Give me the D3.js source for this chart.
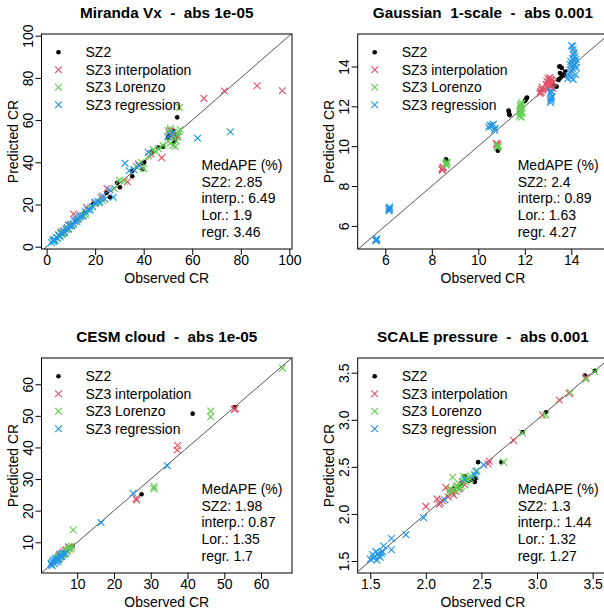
<!DOCTYPE html>
<html>
<head>
<meta charset="utf-8">
<script src="https://cdn.jsdelivr.net/npm/d3@7"></script>
<style>
body { margin: 0; background: #fff; }
svg text { font-family: "Liberation Sans", Arial, Helvetica, sans-serif; fill: #000; }
</style>
</head>
<body>
<div id="chart"></div>
<script>
// Series shared by all four panels
const seriesNames = ["SZ2", "SZ3 interpolation", "SZ3 Lorenzo", "SZ3 regression"];
const seriesColors = ["#000000", "#DF536B", "#61D04F", "#2297E6"];

const panelTitles = [
    "Miranda Vx  -  abs 1e-05",
    "Gaussian  1-scale  -  abs 0.001",
    "CESM cloud  -  abs 1e-05",
    "SCALE pressure  -  abs 0.001"
];

// axis limits [min, max]
const xLimits = [[-2.1, 101.1], [4.813, 15.587], [0.3, 68.4], [1.387, 3.64]];
const yLimits = [[-1.1, 100.8], [4.84, 15.63], [0.28, 68.3], [1.373, 3.656]];

// tick values
const ticksMiranda = [0, 20, 40, 60, 80, 100];
const ticksGaussian = [6, 8, 10, 12, 14];
const ticksCesm = [10, 20, 30, 40, 50, 60];
const ticksScale = [1.5, 2.0, 2.5, 3.0, 3.5];

// MedAPE (%) text per panel
const medapeMiranda = ["MedAPE (%)", "SZ2: 2.85", "interp.: 6.49", "Lor.: 1.9", "regr. 3.46"];
const medapeGaussian = ["MedAPE (%)", "SZ2: 2.4", "interp.: 0.89", "Lor.: 1.63", "regr. 4.27"];
const medapeCesm = ["MedAPE (%)", "SZ2: 1.98", "interp.: 0.87", "Lor.: 1.35", "regr. 1.7"];
const medapeScale = ["MedAPE (%)", "SZ2: 1.3", "interp.: 1.44", "Lor.: 1.32", "regr. 1.27"];

// [observed CR, predicted CR]
const mirandaSZ2 = [[8, 8.3], [12, 12.3], [15.5, 15.8], [19.2, 20.2], [24.7, 25.6], [26.1, 23.4], [29.1, 30.3],
    [30.2, 28.2], [35.3, 35.9], [35.3, 33.4], [39.6, 36.7], [39.8, 39.5], [40.2, 40], [43.3, 45], [46, 47],
    [48, 47.4], [50, 51.8], [51, 53], [52, 55], [53, 51], [53.5, 53], [52.5, 49.5], [53.8, 61.3]];
const mirandaInterp = [[5, 5.5], [6, 7], [7, 7.5], [8.5, 9], [9, 10.2], [10, 10.5], [11.1, 15.5], [12.5, 13],
    [14, 14.8], [16.5, 18.5], [20, 20.5], [22.5, 23.3], [24.9, 27.6], [33.3, 30.8], [37, 38], [37.9, 39.2],
    [43, 44], [47.4, 42.2], [50.5, 54], [51, 55], [52, 53], [54, 52], [64.8, 70.3], [73.2, 73.8], [86.7, 76.3],
    [97.1, 73.9]];
const mirandaLorenzo = [[3, 3.2], [4, 4.5], [5, 5.3], [5.5, 4.6], [6, 6], [7, 6.4], [8, 8.5], [9, 8.2], [10, 10],
    [11, 10.6], [13, 13.5], [15, 15], [16, 15.2], [18, 18.5], [20, 21], [21.5, 20.6], [23, 22], [28, 27.5],
    [30, 31.5], [32, 31], [37, 38], [39, 40], [40, 37], [42, 43], [44, 46], [45, 45], [46, 46.5], [48, 48],
    [50, 50], [51, 49], [52, 48], [53, 47.5], [53.5, 50], [54, 53], [54.5, 54.5], [55, 55.5], [51, 56],
    [50, 55], [52.5, 52], [54.7, 66]];
const mirandaRegression = [[2, 2], [2.5, 2.8], [3, 2.5], [3, 3.5], [3.5, 3], [4, 4.3], [4.5, 4], [5, 5.5], [5.5, 5],
    [6, 6.5], [6.5, 6], [7, 7.3], [7.5, 6.8], [8, 8], [8.5, 9], [9, 8.5], [9.5, 9.8], [10, 10.5], [10.5, 9.8],
    [11, 11], [11.5, 12], [12, 12.5], [12.5, 11.8], [13, 13], [13.5, 14], [14, 14.5], [15, 14.5], [16, 16.5],
    [17, 17.5], [18, 17.3], [19, 19], [20, 21], [21, 21.5], [22, 21.2], [23, 24], [24, 22.5], [26, 27],
    [27.5, 23.4], [32.3, 39.5], [34, 36], [36, 36.5], [38, 38.5], [41.9, 44.7], [50, 52], [51, 53], [52, 54],
    [62.2, 51.4], [75.7, 54.5]];

const gaussianSZ2 = [[8.61, 9.34], [8.62, 9.28], [10.84, 9.77], [10.85, 9.82], [11.3, 11.79], [11.32, 11.72],
    [11.33, 11.6], [11.35, 11.56], [12.0, 12.26], [12.03, 12.32], [12.06, 12.38], [12.1, 12.44], [12.08, 12.42],
    [13.23, 13.08], [13.3, 13.0], [13.37, 12.99], [13.44, 13.33], [13.46, 13.34], [13.51, 13.67], [13.59, 13.92],
    [13.48, 14.0], [13.53, 14.0], [13.74, 13.75], [13.62, 13.6], [13.7, 13.55], [13.55, 13.45]];
const gaussianInterp = [[8.44, 8.85], [8.47, 8.9], [8.5, 8.95], [8.45, 8.8], [10.78, 10.14], [10.8, 10.05],
    [10.82, 10.1], [12.65, 12.65], [12.68, 12.75], [12.72, 12.85], [12.75, 12.95], [12.7, 12.7], [12.78, 12.8],
    [12.92, 13.1], [12.95, 13.25], [13.0, 13.4], [13.05, 13.3], [13.1, 13.15], [13.15, 13.0], [13.2, 12.9],
    [13.12, 13.35], [13.05, 13.05], [12.98, 12.85], [13.22, 13.2], [13.18, 13.3], [13.08, 13.45], [13.0, 12.95]];
const gaussianLorenzo = [[8.62, 9.05], [8.64, 9.15], [8.66, 9.22], [8.6, 9.1], [10.84, 9.97], [10.86, 10.03],
    [10.82, 9.92], [11.78, 11.5], [11.8, 11.6], [11.82, 11.7], [11.84, 11.8], [11.8, 11.9], [11.83, 12.0],
    [11.85, 12.1], [11.87, 12.18], [11.78, 11.75], [11.88, 11.65], [11.8, 12.05], [11.86, 11.45]];
const gaussianRegression = [[5.6, 5.25], [5.62, 5.3], [5.64, 5.35], [5.6, 5.32], [6.16, 6.75], [6.18, 6.82],
    [6.17, 6.9], [6.19, 6.95], [6.15, 6.85], [10.45, 10.95], [10.55, 11.0], [10.6, 11.05], [10.65, 11.1],
    [10.5, 11.05], [10.7, 10.8], [10.72, 10.9], [13.1, 12.2], [13.12, 12.3], [13.13, 12.4], [13.15, 12.5],
    [13.1, 12.65], [13.14, 12.75], [13.85, 13.4], [13.9, 13.55], [13.95, 13.7], [14.0, 13.8], [14.05, 13.9],
    [14.1, 14.0], [14.15, 14.1], [14.2, 14.2], [14.1, 14.3], [14.05, 14.4], [14.15, 14.5], [14.1, 14.6],
    [14.2, 14.35], [13.98, 14.25], [14.0, 13.45], [14.08, 13.35], [14.22, 13.95], [14.12, 14.7], [14.02, 15.05],
    [14.05, 15.0], [14.08, 14.85], [13.95, 14.1], [14.18, 13.6]];

const cesmSZ2 = [[52.8, 52.7], [41.4, 50.7], [27.5, 25.2], [8.7, 8.8], [8.2, 8.5], [7.5, 7.8], [6.5, 6.8], [5.5, 5.8]];
const cesmInterp = [[53, 52.3], [52.7, 52.0], [37.3, 40.6], [37.2, 39.2], [26.2, 23.4], [26.0, 23.8], [8, 8.3],
    [7.2, 7.5], [6.8, 7.4], [6, 6.5], [5.5, 5.5], [4.8, 5.2], [7.7, 8.6], [6.3, 7.0], [5.2, 6.0]];
const cesmLorenzo = [[65.8, 65.1], [46.3, 51.5], [46.3, 49.7], [30.9, 27.6], [30.9, 26.9], [8.9, 13.9], [8.3, 8.0],
    [7.8, 7.7], [7.3, 7.0], [6.5, 6.2], [6, 5.8], [5.2, 5.0], [4.5, 4.6], [8.5, 8.8], [7.6, 8.2], [7.0, 7.6],
    [5.7, 6.3], [4.9, 5.6]];
const cesmRegression = [[34.5, 34.2], [25.2, 25.5], [16.5, 16.2], [3, 3], [3.2, 2.6], [3.5, 3.6], [3.8, 3.2],
    [4, 4.2], [4.3, 3.8], [4.6, 4.8], [5, 4.6], [5.3, 5.6], [5.8, 5.4], [6.2, 6.4], [3.3, 3.9], [4.8, 4.1],
    [2.9, 3.4], [6.8, 6.5], [4.1, 4.9], [5.5, 6.2], [3.6, 4.4]];

const scaleSZ2 = [[3.43, 3.47], [3.52, 3.52], [3.08, 3.08], [2.87, 2.87], [2.68, 2.55], [2.47, 2.55], [2.45, 2.38],
    [2.42, 2.36], [2.40, 2.37], [2.38, 2.35], [2.35, 2.40], [2.32, 2.33], [2.3, 2.3], [2.44, 2.34], [2.25, 2.27]];
const scaleInterp = [[3.44, 3.45], [3.29, 3.28], [3.2, 3.21], [3.05, 3.05], [2.79, 2.78], [2.57, 2.56], [2.56, 2.53],
    [2.35, 2.31], [2.3, 2.27], [2.27, 2.24], [2.25, 2.2], [2.22, 2.26], [2.18, 2.28], [2.2, 2.18], [2.15, 2.14],
    [2.12, 2.1], [2.1, 2.16], [2.13, 2.12], [2.0, 2.08], [2.28, 2.3], [2.33, 2.34], [2.24, 2.22]];
const scaleLorenzo = [[3.52, 3.51], [3.44, 3.43], [3.3, 3.29], [3.08, 3.05], [2.87, 2.86], [2.7, 2.55], [2.46, 2.46],
    [2.44, 2.42], [2.41, 2.4], [2.35, 2.38], [2.34, 2.4], [2.24, 2.39], [2.22, 2.27], [2.25, 2.25], [2.28, 2.3],
    [2.3, 2.32], [2.32, 2.3], [2.36, 2.34], [2.38, 2.36], [2.4, 2.37], [2.27, 2.28], [2.33, 2.35], [2.29, 2.26],
    [2.21, 2.23], [2.31, 2.28]];
const scaleRegression = [[2.52, 2.52], [2.45, 2.45], [2.44, 2.41], [2.35, 2.37], [2.17, 2.15], [1.98, 1.96],
    [1.82, 1.78], [1.69, 1.74], [1.69, 1.62], [1.62, 1.66], [1.6, 1.58], [1.58, 1.55], [1.55, 1.6], [1.53, 1.53],
    [1.52, 1.57], [1.56, 1.51], [1.54, 1.55], [1.57, 1.58], [1.61, 1.6], [1.5, 1.52], [1.59, 1.54]];

// build the panel table from the arrays above
const panels = [
    { title: panelTitles[0], xLim: xLimits[0], yLim: yLimits[0], ticks: ticksMiranda, fmt: d3.format("d"),
      medape: medapeMiranda, series: [mirandaSZ2, mirandaInterp, mirandaLorenzo, mirandaRegression] },
    { title: panelTitles[1], xLim: xLimits[1], yLim: yLimits[1], ticks: ticksGaussian, fmt: d3.format("d"),
      medape: medapeGaussian, series: [gaussianSZ2, gaussianInterp, gaussianLorenzo, gaussianRegression] },
    { title: panelTitles[2], xLim: xLimits[2], yLim: yLimits[2], ticks: ticksCesm, fmt: d3.format("d"),
      medape: medapeCesm, series: [cesmSZ2, cesmInterp, cesmLorenzo, cesmRegression] },
    { title: panelTitles[3], xLim: xLimits[3], yLim: yLimits[3], ticks: ticksScale, fmt: d3.format(".1f"),
      medape: medapeScale, series: [scaleSZ2, scaleInterp, scaleLorenzo, scaleRegression] }
];

const svgWidth = 604;
const svgHeight = 612;

// plot box of each panel (right column is clipped by the page edge)
const boxes = [
    { left: 41.5, top: 34, width: 250.5, height: 215 },
    { left: 357.7, top: 34, width: 250.5, height: 215 },
    { left: 41.5, top: 358, width: 250.5, height: 215 },
    { left: 357.7, top: 358, width: 250.5, height: 215 }
];

const crossPath = "M-3.4,-3.4L3.4,3.4M-3.4,3.4L3.4,-3.4";

let svg = d3.select("#chart")
    .append("svg")
    .attr("width", svgWidth)
    .attr("height", svgHeight);

function drawMark(g, i) {
    if (i === 0) {
        g.append("circle").attr("r", 2.3).attr("fill", seriesColors[0]);
    } else {
        g.append("path").attr("d", crossPath)
            .attr("fill", "none")
            .attr("stroke", seriesColors[i])
            .attr("stroke-width", 1.15);
    }
}

function drawPanel(p, box, idx) {
    let x = d3.scaleLinear().domain(p.xLim).range([box.left, box.left + box.width]);
    let y = d3.scaleLinear().domain(p.yLim).range([box.top + box.height, box.top]);

    let g = svg.append("g");

    // clip for the plot region
    g.append("clipPath").attr("id", "clip" + idx)
        .append("rect")
        .attr("x", box.left).attr("y", box.top)
        .attr("width", box.width).attr("height", box.height);

    // title
    g.append("text")
        .attr("x", box.left + box.width / 2)
        .attr("y", box.top - 16.5)
        .attr("text-anchor", "middle")
        .attr("font-size", "15.3px")
        .attr("font-weight", "bold")
        .style("white-space", "pre")
        .text(p.title);

    // x axis
    let xAxis = g.append("g")
        .attr("transform", `translate(0, ${box.top + box.height})`)
        .call(d3.axisBottom(x).tickValues(p.ticks).tickFormat(p.fmt).tickSize(6));
    xAxis.select(".domain").remove();
    xAxis.selectAll(".tick line").attr("stroke", "#000");
    xAxis.selectAll(".tick text")
        .attr("y", 15.8).attr("dy", 0)
        .attr("font-size", "14px")
        .attr("font-family", null)
        .attr("fill", "#000");

    // y axis, tick labels rotated like R
    let yAxis = g.append("g")
        .attr("transform", `translate(${box.left}, 0)`)
        .call(d3.axisLeft(y).tickValues(p.ticks).tickFormat(p.fmt).tickSize(6));
    yAxis.select(".domain").remove();
    yAxis.selectAll(".tick line").attr("stroke", "#000");
    yAxis.selectAll(".tick text")
        .attr("transform", "rotate(-90)")
        .attr("x", 0).attr("y", -8.5).attr("dy", 0)
        .attr("text-anchor", "middle")
        .attr("font-size", "14px")
        .attr("font-family", null)
        .attr("fill", "#000");

    // axis titles
    g.append("text")
        .attr("x", box.left + box.width / 2)
        .attr("y", box.top + box.height + 33.5)
        .attr("text-anchor", "middle")
        .attr("font-size", "14px")
        .text("Observed CR");

    g.append("text")
        .attr("transform", `translate(${box.left - 24}, ${box.top + box.height / 2}) rotate(-90)`)
        .attr("text-anchor", "middle")
        .attr("font-size", "14px")
        .text("Predicted CR");

    // 1:1 line
    let lo = Math.min(p.xLim[0], p.yLim[0]);
    let hi = Math.max(p.xLim[1], p.yLim[1]);
    g.append("line")
        .attr("clip-path", `url(#clip${idx})`)
        .attr("x1", x(lo)).attr("y1", y(lo))
        .attr("x2", x(hi)).attr("y2", y(hi))
        .attr("stroke", "#555")
        .attr("stroke-width", 1);

    // points
    let pts = g.append("g").attr("clip-path", `url(#clip${idx})`);
    p.series.forEach(function (s, i) {
        pts.selectAll(null)
            .data(s)
            .enter()
            .append("g")
            .attr("transform", d => `translate(${x(d[0])}, ${y(d[1])})`)
            .each(function () { drawMark(d3.select(this), i); });
    });

    // box
    g.append("rect")
        .attr("x", box.left).attr("y", box.top)
        .attr("width", box.width).attr("height", box.height)
        .attr("fill", "none")
        .attr("stroke", "#000")
        .attr("stroke-width", 1);

    // legend (top left)
    seriesNames.forEach(function (name, i) {
        let cy = box.top + 18.2 + i * 17.5;
        let mark = g.append("g").attr("transform", `translate(${box.left + 17}, ${cy})`);
        drawMark(mark, i);
        g.append("text")
            .attr("x", box.left + 44)
            .attr("y", cy)
            .attr("dy", "0.35em")
            .attr("font-size", "14px")
            .text(name);
    });

    // MedAPE block (bottom right)
    p.medape.forEach(function (line, i) {
        g.append("text")
            .attr("x", box.left + 160)
            .attr("y", box.top + 130.7 + i * 16.9)
            .attr("dy", "0.35em")
            .attr("font-size", "14px")
            .text(line);
    });
}

panels.forEach(function (p, i) { drawPanel(p, boxes[i], i); });
</script>
</body>
</html>
